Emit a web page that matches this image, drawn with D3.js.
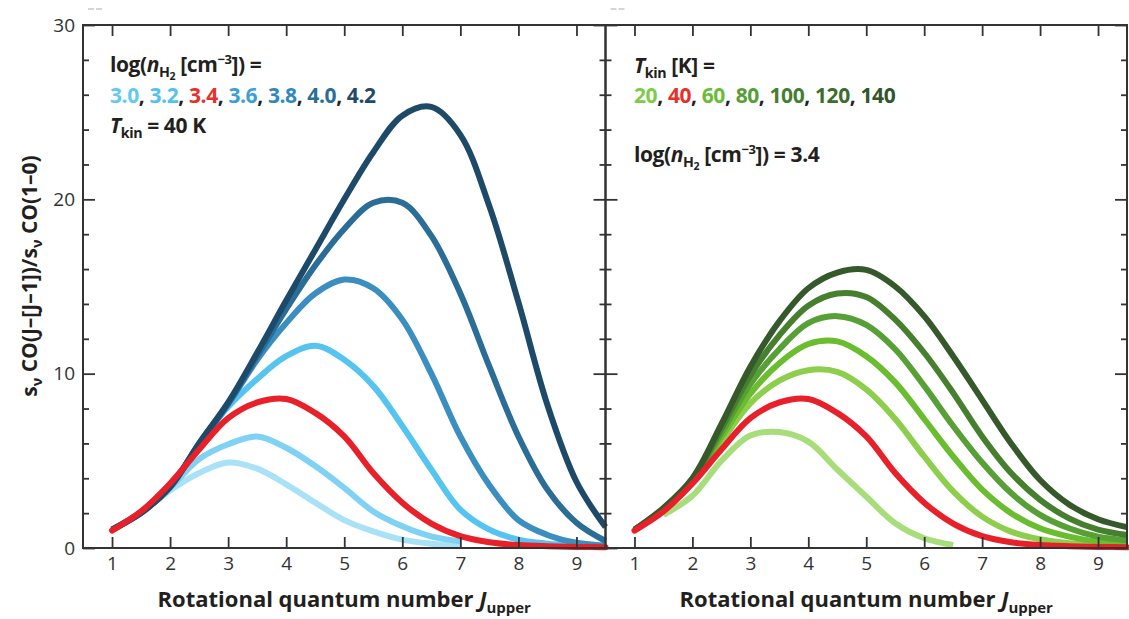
<!DOCTYPE html>
<html><head><meta charset="utf-8">
<script src="https://cdn.jsdelivr.net/npm/d3@7"></script>
<style>
html,body{margin:0;padding:0;background:#fff;}
svg{display:block;font-family:"Open Sans",sans-serif;}
</style></head>
<body>
<svg id="chart" width="1129" height="619"></svg>
<script>
// ---------- data ----------
const J = [1,1.5,2,2.5,3,3.5,4,4.5,5,5.5,6,6.5,7,7.5,8,8.5,9,9.5];
const xTicks = [1,2,3,4,5,6,7,8,9];
const yMajor = [0,10,20,30];
const yMinor = [2,4,6,8,12,14,16,18,22,24,26,28];

// left panel: log n(H2) series at Tkin = 40 K
const densLabels = ["3.0","3.2","3.4","3.6","3.8","4.0","4.2"];
const n30 = [null,2.0,3.3,4.3,4.9,4.55,3.65,2.6,1.6,0.95,0.48,0.25,0.13,null,null,null,null,null];
const n32 = [1.05,2.0,3.45,5.1,5.95,6.4,5.75,4.7,3.45,2.1,1.25,0.67,0.38,null,null,null,null,null];
const n34 = [1.0,2.1,3.7,5.65,7.45,8.35,8.55,7.75,6.4,4.3,2.6,1.4,0.68,0.33,0.17,0.1,0.06,0.04];
const n36 = [1.05,2.05,3.5,5.95,8.1,9.7,11.0,11.6,10.8,9.3,7.0,4.5,2.2,1.05,0.48,0.25,0.15,0.1];
const n38 = [1.05,2.05,3.5,5.95,8.25,10.8,12.9,14.6,15.4,14.9,13.1,10.0,6.4,3.6,1.6,0.75,0.3,0.13];
const n40 = [1.05,2.05,3.5,6.0,8.3,11.0,13.7,16.2,18.3,19.8,19.8,17.9,14.6,10.4,6.4,3.35,1.45,0.4];
const n42 = [1.05,2.0,3.5,6.0,8.35,11.2,14.2,17.1,20.0,22.7,24.8,25.3,23.7,19.6,14.1,8.2,3.8,1.2];

// right panel: Tkin series at log n(H2) = 3.4
const tempLabels = ["20","40","60","80","100","120","140"];
const t20  = [null,1.9,3.0,5.0,6.45,6.65,6.1,4.5,2.95,1.42,0.56,0.17,null,null,null,null,null,null];
const t40  = n34;
const t60  = [1.05,2.15,3.8,6.1,8.3,9.6,10.2,10.1,9.1,7.4,5.25,3.25,1.8,0.94,0.5,0.27,0.15,0.1];
const t80  = [1.05,2.15,3.85,6.35,8.85,10.6,11.7,11.85,11.0,9.5,7.4,5.25,3.35,2.0,1.13,0.65,0.36,0.23];
const t100 = [1.05,2.2,3.9,6.6,9.4,11.4,12.9,13.3,12.8,11.4,9.3,7.0,4.9,3.15,1.9,1.13,0.65,0.45];
const t120 = [1.05,2.25,3.95,6.85,9.9,12.2,13.9,14.6,14.4,13.1,11.2,8.9,6.4,4.3,2.76,1.7,1.05,0.75];
const t140 = [1.05,2.3,4.0,7.1,10.4,13.0,14.9,15.8,15.95,15.0,13.3,11.0,8.5,6.0,3.9,2.5,1.65,1.2];

// ---------- styles ----------
const curveColL = ["#a9e1f6","#7fd2f3","#e8202a","#55c4f0","#3a8ec0","#2a6e98","#1e4a69"];
const textColL  = ["#63c9f1","#55c1ee","#e8302a","#3aa0d7","#2f88bc","#2a6e97","#22496a"];
const curveColR = ["#a8dd7b","#e8202a","#8dcf4c","#6abd2e","#56a035","#46802f","#35592a"];
const textColR  = ["#7ecb4a","#e8302a","#69bd33","#54a036","#447e30","#3d6d2c","#32552a"];

const svg = d3.select("#chart");
const axisCol = "#333";
const topY = 25, bottomY = 548;

// rich text helper: parts {t, i (italic), sub (level), sup, fill}
function rich(sel, parts){
  const base = parseFloat(sel.style("font-size"));
  let off = 0;
  parts.forEach(pt=>{
    let target = 0, fs = base;
    if (pt.sub===1){ target = base*0.26; fs = base*0.68; }
    if (pt.sub===2){ target = base*0.36; fs = base*0.5; }
    if (pt.sup){ target = -base*0.38; fs = base*0.62; }
    const ts = sel.append("tspan").text(pt.t).attr("dy", target-off).style("font-size", fs+"px");
    if (pt.i) ts.style("font-style","italic");
    if (pt.fill) ts.attr("fill", pt.fill);
    off = target;
  });
}

const panels = [
  {x0:83, x1:605.5, series:[n30,n32,n36,n38,n40,n42,n34], cols:[curveColL[0],curveColL[1],curveColL[3],curveColL[4],curveColL[5],curveColL[6],curveColL[2]]},
  {x0:605.5, x1:1127, series:[t20,t60,t80,t100,t120,t140,t40], cols:[curveColR[0],curveColR[2],curveColR[3],curveColR[4],curveColR[5],curveColR[6],curveColR[1]]}
];
const y = d3.scaleLinear().domain([0,30]).range([bottomY,topY]);

panels.forEach((p,pi)=>{
  const x = d3.scaleLinear().domain([0.5,9.5]).range([p.x0,p.x1]);
  const line = d3.line().defined(d=>d[1]!=null).x(d=>x(d[0])).y(d=>y(d[1])).curve(d3.curveCatmullRom.alpha(0.5));
  const g = svg.append("g");
  p.series.forEach((s,i)=>{
    const isRed = (i===p.series.length-1);
    g.append("path").datum(J.map((j,k)=>[j,s[k]]))
      .attr("d",line).attr("fill","none").attr("stroke",p.cols[i])
      .attr("stroke-width",6).attr("stroke-linecap",isRed?"round":"butt").attr("stroke-linejoin","round");
  });

  const gb = svg.append("g").attr("transform",`translate(0,${bottomY})`)
    .call(d3.axisBottom(x).tickValues(xTicks).tickSizeInner(-11).tickSizeOuter(0).tickPadding(9).tickFormat(d3.format("d")));
  gb.select(".domain").remove();
  gb.selectAll("line").attr("stroke",axisCol).attr("stroke-width",1.8);
  gb.selectAll("text").attr("fill",axisCol).style("font-size","19px").style("font-family","'Open Sans',sans-serif");
  const gt = svg.append("g").attr("transform",`translate(0,${topY})`)
    .call(d3.axisTop(x).tickValues(xTicks).tickSizeInner(-11).tickSizeOuter(0).tickFormat(""));
  gt.select(".domain").remove();
  gt.selectAll("line").attr("stroke",axisCol).attr("stroke-width",1.8);

  const sides = [{pos:p.x0, mk:d3.axisLeft}, {pos:p.x1, mk:d3.axisRight}];
  sides.forEach((sd,si)=>{
    const gm = svg.append("g").attr("transform",`translate(${sd.pos},0)`)
      .call(sd.mk(y).tickValues(yMinor).tickSizeInner(-6).tickSizeOuter(0).tickFormat(""));
    gm.select(".domain").remove();
    gm.selectAll("line").attr("stroke",axisCol).attr("stroke-width",1.8);
    const labelled = (pi===0 && si===0);
    const gM = svg.append("g").attr("transform",`translate(${sd.pos},0)`)
      .call(sd.mk(y).tickValues(yMajor).tickSizeInner(-12).tickSizeOuter(0).tickPadding(8)
        .tickFormat(labelled? d3.format("d") : ""));
    gM.select(".domain").remove();
    gM.selectAll("line").attr("stroke",axisCol).attr("stroke-width",1.8);
    gM.selectAll("text").attr("fill",axisCol).style("font-size","19px").style("font-family","'Open Sans',sans-serif");
  });

  svg.append("rect").attr("x",p.x0).attr("y",topY).attr("width",p.x1-p.x0).attr("height",bottomY-topY)
    .attr("fill","none").attr("stroke",axisCol).attr("stroke-width",2);

  const xt = svg.append("text").attr("x",(p.x0+p.x1)/2).attr("y",607)
    .attr("text-anchor","middle").attr("fill","#231f20")
    .style("font-size","22px").style("font-weight","700");
  rich(xt,[{t:"Rotational quantum number "},{t:"J",i:true},{t:"upper",sub:1}]);

  svg.append("line").attr("x1",p.x0+5).attr("x2",p.x0+11).attr("y1",9).attr("y2",9).attr("stroke","#bbb").attr("stroke-width",1.2);
  svg.append("line").attr("x1",p.x0+13).attr("x2",p.x0+19).attr("y1",9).attr("y2",9).attr("stroke","#bbb").attr("stroke-width",1.2);
});

const yt = svg.append("text").attr("transform","translate(37,276) rotate(-90)")
  .attr("text-anchor","middle").attr("fill","#231f20")
  .style("font-size","21px").style("font-weight","700");
rich(yt,[{t:"s"},{t:"ν",sub:1},{t:" CO(J–[J–1])/s"},{t:"ν",sub:1},{t:" CO(1–0)"}]);

// ---------- legends ----------
function legendLine(xp, yp, parts){
  const t = svg.append("text").attr("x",xp).attr("y",yp).attr("fill","#231f20")
    .style("font-size","21px").style("font-weight","700").style("letter-spacing","-0.4px");
  rich(t, parts);
  return t;
}
function listParts(labels, cols){
  const out = [];
  labels.forEach((l,i)=>{
    out.push({t:l, fill:cols[i]});
    if (i<labels.length-1) out.push({t:", "});
  });
  return out;
}
const lognParts = [{t:"log("},{t:"n",i:true},{t:"H",sub:1},{t:"2",sub:2},{t:" [cm"},{t:"−3",sup:1},{t:"]) ="}];
legendLine(110,72,lognParts);
legendLine(110,103,listParts(densLabels,textColL));
legendLine(110,133,[{t:"T",i:true},{t:"kin",sub:1},{t:" = 40 K"}]);

legendLine(634,73,[{t:"T",i:true},{t:"kin",sub:1},{t:" [K] ="}]);
legendLine(634,103,listParts(tempLabels,textColR));
legendLine(634,162,lognParts.concat([{t:" 3.4"}]));
</script>
</body></html>
